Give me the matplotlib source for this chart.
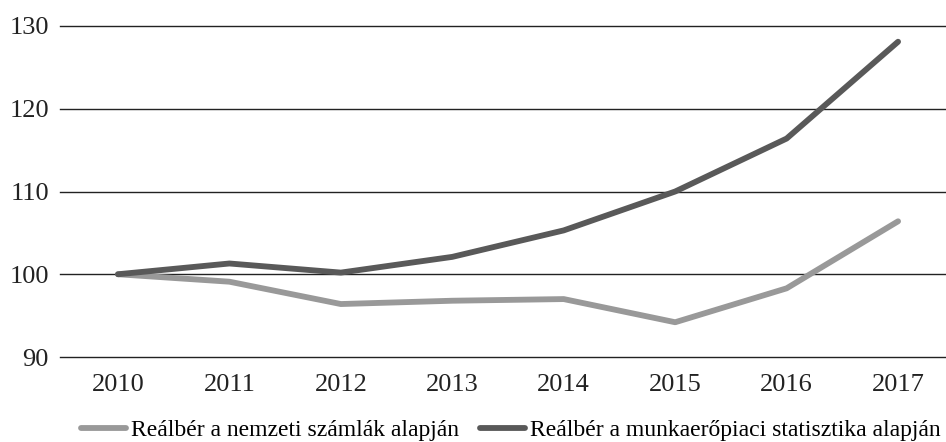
import matplotlib.pyplot as plt

years = ['2010', '2011', '2012', '2013', '2014', '2015', '2016', '2017']
nemzeti = [100, 99.1, 96.4, 96.8, 97.0, 94.2, 98.3, 106.4]
munkaero = [100, 101.3, 100.2, 102.1, 105.3, 110.0, 116.4, 128.1]
yticks = [90, 100, 110, 120, 130]

plt.rcParams['font.family'] = ['Liberation Serif', 'DejaVu Serif']

fig = plt.figure(figsize=(9.46, 4.42), dpi=100)
ax = fig.add_axes([60 / 946, 85 / 442, 886 / 946, 331 / 442])

x = range(len(years))
ax.plot(x, nemzeti, color='#999999', lw=4.2, solid_capstyle='round',
        label='Reálbér a nemzeti számlák alapján', zorder=3)
ax.plot(x, munkaero, color='#595959', lw=4.2, solid_capstyle='round',
        label='Reálbér a munkaerőpiaci statisztika alapján', zorder=3)

ax.set_ylim(90, 130)
ax.set_xlim(-0.52, 7.43)
ax.set_yticks(yticks)
ax.set_xticks(list(x))
ax.set_xticklabels(years)
ax.grid(axis='y', color='#222222', lw=1.0)
for gl in ax.get_ygridlines():
    gl.set_clip_on(False)
ax.set_axisbelow(True)
for s in ax.spines.values():
    s.set_visible(False)
ax.tick_params(length=0, labelsize=19, colors='#222222')
ax.tick_params(axis='y', pad=8)
ax.tick_params(axis='x', pad=12)

ax.legend(loc='center', bbox_to_anchor=(511 / 946, 12 / 442),
          bbox_transform=fig.transFigure, ncol=2,
          frameon=False, fontsize=17, handlelength=1.9, handletextpad=0.2,
          columnspacing=0.9, borderaxespad=0, borderpad=0)

fig.savefig('out.png', dpi=100)
